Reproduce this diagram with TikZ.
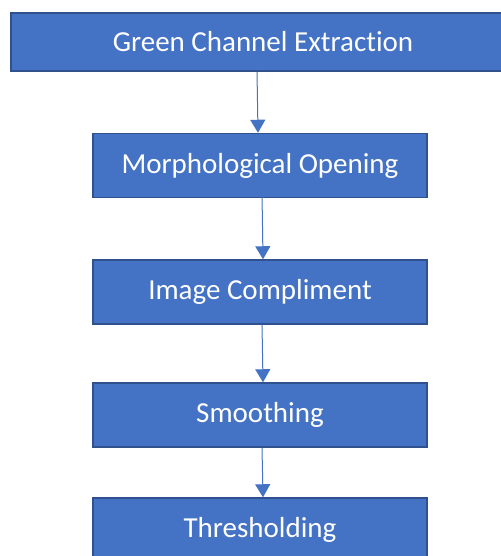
\documentclass[tikz,border=0pt]{standalone}
\usepackage{fontspec}
\setmainfont{Carlito}[Ligatures=NoCommon]
\usetikzlibrary{arrows.meta}
\definecolor{boxblue}{HTML}{4472C4}
\definecolor{edgeblue}{HTML}{2F528F}
\tikzset{
    stepbox/.style={draw=edgeblue, line width=1.5pt, fill=boxblue, text=white,
        inner sep=0pt, minimum width=334pt, minimum height=64pt,
        font=\fontsize{29}{34}\selectfont},
    flow/.style={draw=boxblue, line width=1pt, -{Triangle[width=15pt,length=13pt]}}
}
\begin{document}
\begin{tikzpicture}[x=1pt,y=-1pt]
        \useasboundingbox (0,0) rectangle (500,556);

        \node[stepbox, minimum width=504pt, minimum height=58pt] (green) at (263,42) {Green Channel Extraction};
        \node[stepbox] (morph) at (260,165.5) {Morphological Opening};
        \node[stepbox] (compl) at (260,292) {Image Compliment};
        \node[stepbox] (smooth) at (260,415) {Smoothing};
        \node[stepbox] (thresh) at (260,530) {Thresholding};

        \draw[flow] ([xshift=-6pt]green.south) -- ([xshift=-2pt]morph.north);
        \draw[flow] ([xshift=2pt,yshift=4pt]morph.south) -- ([xshift=3pt]compl.north);
        \draw[flow] ([xshift=2pt]compl.south) -- ([xshift=3pt]smooth.north);
        \draw[flow] ([xshift=2pt]smooth.south) -- ([xshift=3pt]thresh.north);

    \end{tikzpicture}
\end{document}
